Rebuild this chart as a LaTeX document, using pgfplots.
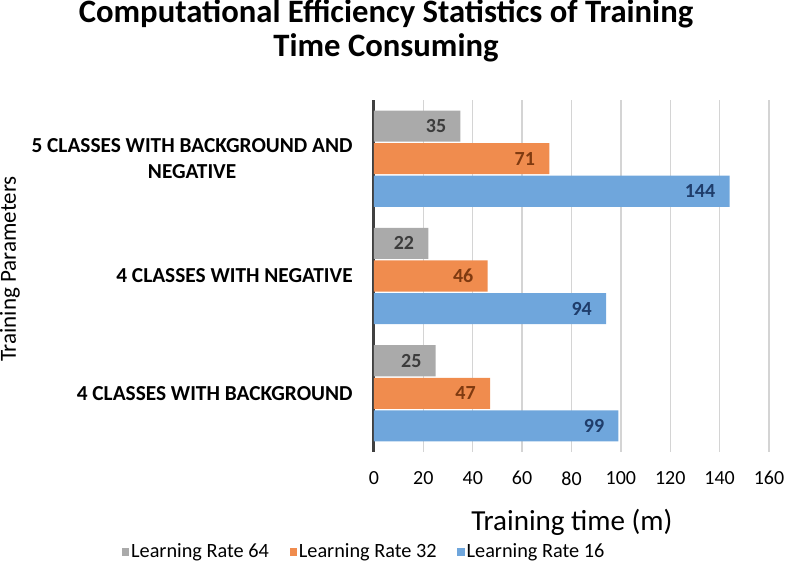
\documentclass[border=0pt]{standalone}
\usepackage{fontspec}
\setmainfont{Carlito}
\usepackage{pgfplots}
\pgfplotsset{compat=1.18}
\definecolor{cgray}{HTML}{AAAAAA}
\definecolor{corange}{HTML}{F08C4E}
\definecolor{cblue}{HTML}{6FA6DC}
\definecolor{tgray}{HTML}{3C3C3C}
\definecolor{torange}{HTML}{7F3A10}
\definecolor{tblue}{HTML}{1F3D6B}
\definecolor{gridc}{HTML}{D4D4D4}
\definecolor{axc}{HTML}{404040}
\begin{document}
\begin{tikzpicture}
\path[use as bounding box] (0,0) rectangle (589.5pt,428.25pt);
\node[anchor=base, font=\bfseries\fontsize{24.5}{25}\selectfont] at (289.5pt,411pt) {Computational Efficiency Statistics of Training};
\node[anchor=base, font=\bfseries\fontsize{24.5}{25}\selectfont] at (289.5pt,385.5pt) {Time Consuming};
\begin{axis}[
  at={(280.5pt,89.25pt)}, anchor=south west,
  scale only axis, width=296.25pt, height=264pt,
  xmin=0, xmax=160, ymin=-0.5, ymax=2.5,
  xtick={0,20,...,160}, ytick={0,1,2},
  yticklabels={4 CLASSES WITH BACKGROUND, 4 CLASSES WITH NEGATIVE, {5 CLASSES WITH BACKGROUND AND\\NEGATIVE}},
  axis y line*=left, axis x line*=bottom,
  x axis line style={draw=none},
  y axis line style={draw=axc, line width=2.25pt},
  major tick length=0pt,
  xmajorgrids, grid style={gridc, line width=1.1pt},
  /pgf/number format/assume math mode=true,
  xticklabel style={font=\fontsize{15}{18}\selectfont, yshift=-11pt, text=black},
  yticklabel style={font=\bfseries\fontsize{16}{19}\selectfont, align=center, anchor=east, xshift=-12.5pt},
  xlabel={Training time (m)},
  xlabel style={at={(axis description cs:0.501,-0.2216)}, anchor=base, font=\fontsize{21.8}{24}\selectfont},
  ylabel={Training Parameters},
  ylabel style={at={(axis description cs:-0.9215,0.520)}, anchor=center, font=\fontsize{17.3}{20}\selectfont},
  bar width=0.265,
  legend columns=3,
  legend style={at={(axis description cs:-0.025,-0.284)}, anchor=center, draw=none, fill=none,
    font=\fontsize{15.2}{18}\selectfont, nodes={inner xsep=1.5pt},
    /tikz/every even column/.append style={column sep=14pt}},
]
\addplot[xbar, fill=cgray, draw=none, bar shift=0.278,
  nodes near coords, nodes near coords style={anchor=east, inner sep=0pt, xshift=-10.5pt, yshift=24.46pt, text=tgray, font=\bfseries\fontsize{15}{18}\selectfont},
  legend image code/.code={\fill[cgray] (0pt,-2.8pt) rectangle (5.5pt,2.8pt);}]
  coordinates {(25,0) (22,1) (35,2)};
\addlegendentry{Learning Rate 64}
\addplot[xbar, fill=corange, draw=none, bar shift=0,
  nodes near coords, nodes near coords style={anchor=east, inner sep=0pt, xshift=-10.5pt, text=torange, font=\bfseries\fontsize{15}{18}\selectfont},
  legend image code/.code={\fill[corange] (0pt,-2.8pt) rectangle (5.5pt,2.8pt);}]
  coordinates {(47,0) (46,1) (71,2)};
\addlegendentry{Learning Rate 32}
\addplot[xbar, fill=cblue, draw=none, bar shift=-0.278,
  nodes near coords, nodes near coords style={anchor=east, inner sep=0pt, xshift=-10.5pt, yshift=-24.46pt, text=tblue, font=\bfseries\fontsize{15}{18}\selectfont},
  legend image code/.code={\fill[cblue] (0pt,-2.8pt) rectangle (5.5pt,2.8pt);}]
  coordinates {(99,0) (94,1) (144,2)};
\addlegendentry{Learning Rate 16}
\end{axis}
\end{tikzpicture}
\end{document}
